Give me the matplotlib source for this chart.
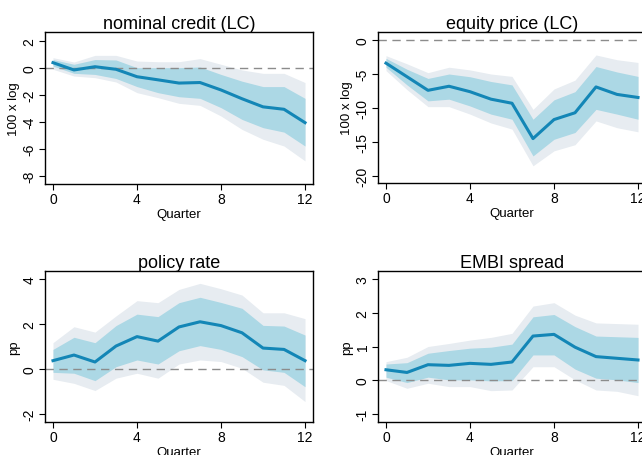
import matplotlib.pyplot as plt
import numpy as np

plt.rcParams['font.family'] = ['Liberation Sans', 'DejaVu Sans']

quarters = np.arange(13)

# nominal credit (LC), 100 x log
credit_irf = [0.37, -0.17, 0.07, -0.12, -0.67, -0.9, -1.14, -1.1, -1.65, -2.3, -2.9, -3.08, -4.07]
credit_in_hi = [0.6, 0.25, 0.6, 0.57, 0.0, 0.0, 0.0, 0.05, -0.5, -1.0, -1.4, -1.4, -2.27]
credit_in_lo = [0.12, -0.42, -0.5, -0.8, -1.4, -1.85, -2.15, -2.27, -2.96, -3.83, -4.44, -4.77, -5.8]
credit_out_hi = [0.74, 0.42, 0.91, 0.91, 0.49, 0.44, 0.44, 0.67, 0.25, -0.17, -0.42, -0.42, -1.1]
credit_out_lo = [-0.12, -0.62, -0.74, -1.06, -1.85, -2.22, -2.64, -2.79, -3.58, -4.57, -5.3, -5.8, -6.9]

# equity price (LC), 100 x log
equity_irf = [-3.4, -5.4, -7.4, -6.8, -7.6, -8.7, -9.3, -14.5, -11.7, -10.7, -6.9, -8.0, -8.45]
equity_in_hi = [-2.7, -4.3, -5.65, -5.0, -5.4, -6.1, -6.6, -11.65, -8.8, -7.6, -3.9, -4.7, -5.35]
equity_in_lo = [-4.0, -6.6, -8.95, -8.7, -9.7, -10.9, -11.65, -17.05, -14.6, -13.6, -10.2, -10.9, -11.65]
equity_out_hi = [-2.3, -3.5, -4.8, -4.0, -4.4, -5.0, -5.35, -10.2, -7.2, -5.9, -2.2, -2.9, -3.3]
equity_out_lo = [-4.5, -7.3, -9.8, -9.8, -10.9, -12.2, -13.1, -18.5, -16.3, -15.4, -11.9, -12.9, -13.5]

# policy rate, pp
policy_irf = [0.37, 0.62, 0.31, 1.02, 1.44, 1.24, 1.87, 2.1, 1.93, 1.61, 0.93, 0.87, 0.37]
policy_in_hi = [0.87, 1.41, 1.17, 1.93, 2.44, 2.33, 2.95, 3.19, 2.96, 2.7, 1.94, 1.91, 1.51]
policy_in_lo = [-0.15, -0.19, -0.52, 0.1, 0.4, 0.22, 0.81, 1.04, 0.87, 0.55, -0.04, -0.15, -0.79]
policy_out_hi = [1.17, 1.88, 1.64, 2.36, 3.04, 2.95, 3.54, 3.81, 3.57, 3.29, 2.5, 2.5, 2.24]
policy_out_lo = [-0.46, -0.64, -0.96, -0.41, -0.19, -0.41, 0.22, 0.4, 0.33, 0.03, -0.59, -0.73, -1.45]

# EMBI spread, pp
embi_irf = [0.31, 0.23, 0.46, 0.44, 0.5, 0.47, 0.54, 1.31, 1.36, 0.98, 0.7, 0.65, 0.6]
embi_in_hi = [0.48, 0.52, 0.8, 0.88, 0.95, 0.98, 1.07, 1.88, 1.95, 1.59, 1.31, 1.29, 1.27]
embi_in_lo = [0.09, -0.07, 0.09, 0.01, 0.01, -0.02, -0.01, 0.75, 0.75, 0.33, 0.06, 0.01, -0.07]
embi_out_hi = [0.55, 0.68, 1.0, 1.09, 1.19, 1.27, 1.39, 2.2, 2.3, 1.93, 1.7, 1.68, 1.66]
embi_out_lo = [-0.01, -0.24, -0.09, -0.19, -0.19, -0.31, -0.29, 0.4, 0.4, 0.01, -0.29, -0.33, -0.46]

LINE = '#1386b6'
INNER = '#acd8e5'
OUTER = '#e7ecf1'

W, H = 642, 456


def panel(rect, title, ylabel, irf, in_lo, in_hi, out_lo, out_hi, yticks, ylim):
    # rect given in pixels: left, top, right, bottom
    l, t, r, b = rect
    ax = fig.add_axes([l / W, 1 - b / H, (r - l) / W, (b - t) / H])
    ax.fill_between(quarters, out_lo, out_hi, color=OUTER, lw=0)
    ax.fill_between(quarters, in_lo, in_hi, color=INNER, lw=0)
    ax.axhline(0, color='#8c8c8c', lw=1.0, dashes=(6, 4))
    ax.plot(quarters, irf, color=LINE, lw=2.2, solid_joinstyle='round')
    ax.set_xlim(-0.38, 12.38)
    ax.set_ylim(*ylim)
    ax.set_xticks([0, 4, 8, 12])
    ax.set_yticks(yticks)
    ax.set_yticklabels([str(v) for v in yticks], rotation=90, va='center')
    ax.tick_params(direction='out', length=4, width=0.8, labelsize=10)
    ax.tick_params(axis='x', pad=2)
    ax.tick_params(axis='y', pad=2)
    for s in ax.spines.values():
        s.set_linewidth(1.0)
    ax.set_title(title, fontsize=13, pad=3)
    ax.set_xlabel('Quarter', fontsize=9.5, labelpad=1)
    ax.set_ylabel(ylabel, fontsize=9.5, labelpad=2)
    return ax


fig = plt.figure(figsize=(W / 100, H / 100), dpi=100)

panel((45, 33, 313, 185), 'nominal credit (LC)', '100 x log',
      credit_irf, credit_in_lo, credit_in_hi, credit_out_lo, credit_out_hi,
      [-8, -6, -4, -2, 0, 2], (-8.61, 2.64))
panel((378, 33, 646, 184), 'equity price (LC)', '100 x log',
      equity_irf, equity_in_lo, equity_in_hi, equity_out_lo, equity_out_hi,
      [-20, -15, -10, -5, 0], (-21.03, 1.18))
panel((45, 272, 313, 423), 'policy rate', 'pp',
      policy_irf, policy_in_lo, policy_in_hi, policy_out_lo, policy_out_hi,
      [-2, 0, 2, 4], (-2.36, 4.36))
panel((378, 272, 646, 423), 'EMBI spread', 'pp',
      embi_irf, embi_in_lo, embi_in_hi, embi_out_lo, embi_out_hi,
      [-1, 0, 1, 2, 3], (-1.24, 3.24))

fig.savefig('out.png', dpi=100)
